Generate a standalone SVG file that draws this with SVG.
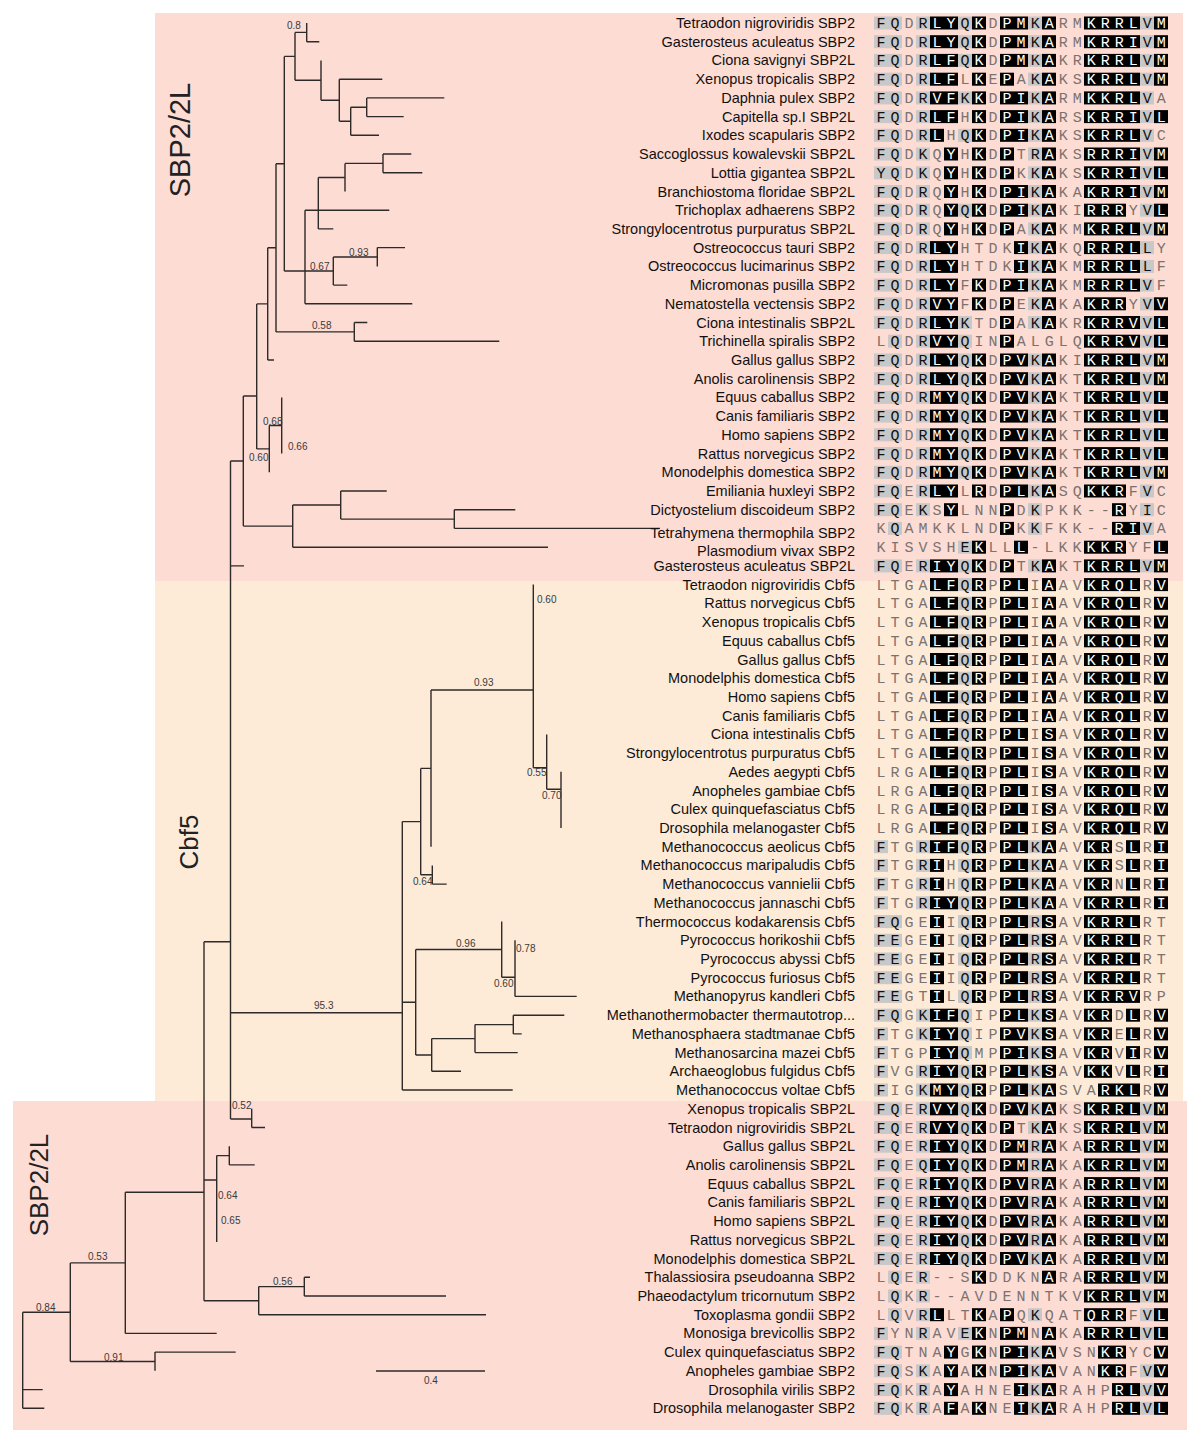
<svg xmlns="http://www.w3.org/2000/svg" width="1200" height="1446" viewBox="0 0 1200 1446">
<style>
.e{fill:none;stroke:#2e2a28;stroke-width:1.4}
.sup{font-family:"Liberation Sans",Arial,sans-serif;font-size:10px;fill:#3a3a3a}
.nm{font-family:"Liberation Sans",Arial,sans-serif;font-size:14.5px;fill:#111;text-anchor:end}
.aa{font-family:"Liberation Mono","Courier New",monospace;font-size:15px;letter-spacing:5px;fill:#7b726e}
.aa .k{fill:#111}.aa .w{fill:#fff}
rect.g{fill:#c8c8c8}rect.b{fill:#000}
.clade{font-family:"Liberation Sans",Arial,sans-serif;font-size:26px;fill:#222;text-anchor:middle}
</style>
<defs>
<g id="pA"><rect class="g" x="874" y="-6.5" width="28" height="13"/><rect class="g" x="916" y="-6.5" width="14" height="13"/><rect class="b" x="930" y="-6.5" width="28" height="13"/><rect class="g" x="958" y="-6.5" width="14" height="13"/><rect class="b" x="972" y="-6.5" width="14" height="13"/><rect class="b" x="1000" y="-6.5" width="28" height="13"/><rect class="g" x="1028" y="-6.5" width="14" height="13"/><rect class="b" x="1042" y="-6.5" width="14" height="13"/><rect class="b" x="1084" y="-6.5" width="56" height="13"/><rect class="g" x="1140" y="-6.5" width="14" height="13"/><rect class="b" x="1154" y="-6.5" width="14" height="13"/></g>
<g id="pB"><rect class="g" x="874" y="-6.5" width="28" height="13"/><rect class="g" x="916" y="-6.5" width="14" height="13"/><rect class="b" x="930" y="-6.5" width="28" height="13"/><rect class="g" x="958" y="-6.5" width="14" height="13"/><rect class="b" x="972" y="-6.5" width="14" height="13"/><rect class="b" x="1000" y="-6.5" width="14" height="13"/><rect class="g" x="1028" y="-6.5" width="14" height="13"/><rect class="b" x="1042" y="-6.5" width="14" height="13"/><rect class="b" x="1084" y="-6.5" width="56" height="13"/><rect class="g" x="1140" y="-6.5" width="14" height="13"/><rect class="b" x="1154" y="-6.5" width="14" height="13"/></g>
<g id="p4"><rect class="g" x="874" y="-6.5" width="28" height="13"/><rect class="g" x="916" y="-6.5" width="14" height="13"/><rect class="b" x="930" y="-6.5" width="28" height="13"/><rect class="b" x="972" y="-6.5" width="14" height="13"/><rect class="b" x="1000" y="-6.5" width="14" height="13"/><rect class="g" x="1028" y="-6.5" width="14" height="13"/><rect class="b" x="1042" y="-6.5" width="14" height="13"/><rect class="b" x="1084" y="-6.5" width="56" height="13"/><rect class="g" x="1140" y="-6.5" width="14" height="13"/><rect class="b" x="1154" y="-6.5" width="14" height="13"/></g>
<g id="p5"><rect class="g" x="874" y="-6.5" width="28" height="13"/><rect class="g" x="916" y="-6.5" width="14" height="13"/><rect class="b" x="930" y="-6.5" width="28" height="13"/><rect class="g" x="958" y="-6.5" width="14" height="13"/><rect class="b" x="972" y="-6.5" width="14" height="13"/><rect class="b" x="1000" y="-6.5" width="28" height="13"/><rect class="g" x="1028" y="-6.5" width="14" height="13"/><rect class="b" x="1042" y="-6.5" width="14" height="13"/><rect class="b" x="1084" y="-6.5" width="56" height="13"/><rect class="g" x="1140" y="-6.5" width="14" height="13"/></g>
<g id="p6"><rect class="g" x="874" y="-6.5" width="28" height="13"/><rect class="g" x="916" y="-6.5" width="14" height="13"/><rect class="b" x="930" y="-6.5" width="28" height="13"/><rect class="b" x="972" y="-6.5" width="14" height="13"/><rect class="b" x="1000" y="-6.5" width="28" height="13"/><rect class="g" x="1028" y="-6.5" width="14" height="13"/><rect class="b" x="1042" y="-6.5" width="14" height="13"/><rect class="b" x="1084" y="-6.5" width="56" height="13"/><rect class="g" x="1140" y="-6.5" width="14" height="13"/><rect class="b" x="1154" y="-6.5" width="14" height="13"/></g>
<g id="p7"><rect class="g" x="874" y="-6.5" width="28" height="13"/><rect class="g" x="916" y="-6.5" width="14" height="13"/><rect class="b" x="930" y="-6.5" width="14" height="13"/><rect class="g" x="958" y="-6.5" width="14" height="13"/><rect class="b" x="972" y="-6.5" width="14" height="13"/><rect class="b" x="1000" y="-6.5" width="28" height="13"/><rect class="g" x="1028" y="-6.5" width="14" height="13"/><rect class="b" x="1042" y="-6.5" width="14" height="13"/><rect class="b" x="1084" y="-6.5" width="56" height="13"/><rect class="g" x="1140" y="-6.5" width="14" height="13"/></g>
<g id="p8"><rect class="g" x="874" y="-6.5" width="28" height="13"/><rect class="g" x="916" y="-6.5" width="14" height="13"/><rect class="b" x="944" y="-6.5" width="14" height="13"/><rect class="b" x="972" y="-6.5" width="14" height="13"/><rect class="b" x="1000" y="-6.5" width="14" height="13"/><rect class="g" x="1028" y="-6.5" width="14" height="13"/><rect class="b" x="1042" y="-6.5" width="14" height="13"/><rect class="b" x="1084" y="-6.5" width="56" height="13"/><rect class="g" x="1140" y="-6.5" width="14" height="13"/><rect class="b" x="1154" y="-6.5" width="14" height="13"/></g>
<g id="p10"><rect class="g" x="874" y="-6.5" width="28" height="13"/><rect class="g" x="916" y="-6.5" width="14" height="13"/><rect class="b" x="944" y="-6.5" width="14" height="13"/><rect class="b" x="972" y="-6.5" width="14" height="13"/><rect class="b" x="1000" y="-6.5" width="28" height="13"/><rect class="g" x="1028" y="-6.5" width="14" height="13"/><rect class="b" x="1042" y="-6.5" width="14" height="13"/><rect class="b" x="1084" y="-6.5" width="56" height="13"/><rect class="g" x="1140" y="-6.5" width="14" height="13"/><rect class="b" x="1154" y="-6.5" width="14" height="13"/></g>
<g id="p11"><rect class="g" x="874" y="-6.5" width="28" height="13"/><rect class="g" x="916" y="-6.5" width="14" height="13"/><rect class="b" x="944" y="-6.5" width="14" height="13"/><rect class="g" x="958" y="-6.5" width="14" height="13"/><rect class="b" x="972" y="-6.5" width="14" height="13"/><rect class="b" x="1000" y="-6.5" width="28" height="13"/><rect class="g" x="1028" y="-6.5" width="14" height="13"/><rect class="b" x="1042" y="-6.5" width="14" height="13"/><rect class="b" x="1084" y="-6.5" width="42" height="13"/><rect class="g" x="1140" y="-6.5" width="14" height="13"/><rect class="b" x="1154" y="-6.5" width="14" height="13"/></g>
<g id="p13"><rect class="g" x="874" y="-6.5" width="28" height="13"/><rect class="g" x="916" y="-6.5" width="14" height="13"/><rect class="b" x="930" y="-6.5" width="28" height="13"/><rect class="b" x="1014" y="-6.5" width="14" height="13"/><rect class="g" x="1028" y="-6.5" width="14" height="13"/><rect class="b" x="1042" y="-6.5" width="14" height="13"/><rect class="b" x="1084" y="-6.5" width="56" height="13"/><rect class="g" x="1140" y="-6.5" width="14" height="13"/></g>
<g id="p15"><rect class="g" x="874" y="-6.5" width="28" height="13"/><rect class="g" x="916" y="-6.5" width="14" height="13"/><rect class="b" x="930" y="-6.5" width="28" height="13"/><rect class="b" x="972" y="-6.5" width="14" height="13"/><rect class="b" x="1000" y="-6.5" width="28" height="13"/><rect class="g" x="1028" y="-6.5" width="14" height="13"/><rect class="b" x="1042" y="-6.5" width="14" height="13"/><rect class="b" x="1084" y="-6.5" width="56" height="13"/><rect class="g" x="1140" y="-6.5" width="14" height="13"/></g>
<g id="p16"><rect class="g" x="874" y="-6.5" width="28" height="13"/><rect class="g" x="916" y="-6.5" width="14" height="13"/><rect class="b" x="930" y="-6.5" width="28" height="13"/><rect class="b" x="972" y="-6.5" width="14" height="13"/><rect class="b" x="1000" y="-6.5" width="14" height="13"/><rect class="g" x="1028" y="-6.5" width="14" height="13"/><rect class="b" x="1042" y="-6.5" width="14" height="13"/><rect class="b" x="1084" y="-6.5" width="42" height="13"/><rect class="g" x="1140" y="-6.5" width="14" height="13"/><rect class="b" x="1154" y="-6.5" width="14" height="13"/></g>
<g id="p17"><rect class="g" x="874" y="-6.5" width="28" height="13"/><rect class="g" x="916" y="-6.5" width="14" height="13"/><rect class="b" x="930" y="-6.5" width="28" height="13"/><rect class="g" x="958" y="-6.5" width="14" height="13"/><rect class="b" x="1000" y="-6.5" width="14" height="13"/><rect class="g" x="1028" y="-6.5" width="14" height="13"/><rect class="b" x="1042" y="-6.5" width="14" height="13"/><rect class="b" x="1084" y="-6.5" width="56" height="13"/><rect class="g" x="1140" y="-6.5" width="14" height="13"/><rect class="b" x="1154" y="-6.5" width="14" height="13"/></g>
<g id="p18"><rect class="g" x="888" y="-6.5" width="14" height="13"/><rect class="g" x="916" y="-6.5" width="14" height="13"/><rect class="b" x="930" y="-6.5" width="28" height="13"/><rect class="g" x="958" y="-6.5" width="14" height="13"/><rect class="b" x="1000" y="-6.5" width="14" height="13"/><rect class="b" x="1084" y="-6.5" width="56" height="13"/><rect class="g" x="1140" y="-6.5" width="14" height="13"/><rect class="b" x="1154" y="-6.5" width="14" height="13"/></g>
<g id="p26"><rect class="g" x="874" y="-6.5" width="28" height="13"/><rect class="g" x="916" y="-6.5" width="14" height="13"/><rect class="b" x="930" y="-6.5" width="28" height="13"/><rect class="b" x="972" y="-6.5" width="14" height="13"/><rect class="b" x="1000" y="-6.5" width="28" height="13"/><rect class="g" x="1028" y="-6.5" width="14" height="13"/><rect class="b" x="1042" y="-6.5" width="14" height="13"/><rect class="b" x="1084" y="-6.5" width="42" height="13"/><rect class="g" x="1140" y="-6.5" width="14" height="13"/></g>
<g id="p27"><rect class="g" x="874" y="-6.5" width="28" height="13"/><rect class="g" x="916" y="-6.5" width="14" height="13"/><rect class="b" x="944" y="-6.5" width="14" height="13"/><rect class="b" x="1000" y="-6.5" width="14" height="13"/><rect class="g" x="1028" y="-6.5" width="14" height="13"/><rect class="b" x="1112" y="-6.5" width="14" height="13"/><rect class="g" x="1140" y="-6.5" width="14" height="13"/></g>
<g id="p28"><rect class="g" x="888" y="-6.5" width="14" height="13"/><rect class="b" x="1000" y="-6.5" width="14" height="13"/><rect class="g" x="1028" y="-6.5" width="14" height="13"/><rect class="b" x="1112" y="-6.5" width="28" height="13"/><rect class="g" x="1140" y="-6.5" width="14" height="13"/></g>
<g id="p29"><rect class="g" x="958" y="-6.5" width="14" height="13"/><rect class="b" x="972" y="-6.5" width="14" height="13"/><rect class="b" x="1014" y="-6.5" width="14" height="13"/><rect class="b" x="1084" y="-6.5" width="42" height="13"/><rect class="b" x="1154" y="-6.5" width="14" height="13"/></g>
<g id="pC"><rect class="b" x="930" y="-6.5" width="28" height="13"/><rect class="g" x="958" y="-6.5" width="14" height="13"/><rect class="b" x="972" y="-6.5" width="14" height="13"/><rect class="b" x="1000" y="-6.5" width="28" height="13"/><rect class="b" x="1042" y="-6.5" width="14" height="13"/><rect class="b" x="1084" y="-6.5" width="56" height="13"/><rect class="b" x="1154" y="-6.5" width="14" height="13"/></g>
<g id="p45"><rect class="g" x="874" y="-6.5" width="14" height="13"/><rect class="g" x="916" y="-6.5" width="14" height="13"/><rect class="b" x="930" y="-6.5" width="28" height="13"/><rect class="g" x="958" y="-6.5" width="14" height="13"/><rect class="b" x="972" y="-6.5" width="14" height="13"/><rect class="b" x="1000" y="-6.5" width="28" height="13"/><rect class="g" x="1028" y="-6.5" width="14" height="13"/><rect class="b" x="1042" y="-6.5" width="14" height="13"/><rect class="b" x="1084" y="-6.5" width="28" height="13"/><rect class="b" x="1126" y="-6.5" width="14" height="13"/><rect class="b" x="1154" y="-6.5" width="14" height="13"/></g>
<g id="p46"><rect class="g" x="874" y="-6.5" width="14" height="13"/><rect class="g" x="916" y="-6.5" width="14" height="13"/><rect class="b" x="930" y="-6.5" width="14" height="13"/><rect class="g" x="958" y="-6.5" width="14" height="13"/><rect class="b" x="972" y="-6.5" width="14" height="13"/><rect class="b" x="1000" y="-6.5" width="28" height="13"/><rect class="g" x="1028" y="-6.5" width="14" height="13"/><rect class="b" x="1042" y="-6.5" width="14" height="13"/><rect class="b" x="1084" y="-6.5" width="28" height="13"/><rect class="b" x="1126" y="-6.5" width="14" height="13"/><rect class="b" x="1154" y="-6.5" width="14" height="13"/></g>
<g id="p48"><rect class="g" x="874" y="-6.5" width="14" height="13"/><rect class="g" x="916" y="-6.5" width="14" height="13"/><rect class="b" x="930" y="-6.5" width="28" height="13"/><rect class="g" x="958" y="-6.5" width="14" height="13"/><rect class="b" x="972" y="-6.5" width="14" height="13"/><rect class="b" x="1000" y="-6.5" width="28" height="13"/><rect class="g" x="1028" y="-6.5" width="14" height="13"/><rect class="b" x="1042" y="-6.5" width="14" height="13"/><rect class="b" x="1084" y="-6.5" width="56" height="13"/><rect class="b" x="1154" y="-6.5" width="14" height="13"/></g>
<g id="p49"><rect class="g" x="874" y="-6.5" width="28" height="13"/><rect class="b" x="930" y="-6.5" width="14" height="13"/><rect class="g" x="958" y="-6.5" width="14" height="13"/><rect class="b" x="972" y="-6.5" width="14" height="13"/><rect class="b" x="1000" y="-6.5" width="28" height="13"/><rect class="g" x="1028" y="-6.5" width="14" height="13"/><rect class="b" x="1042" y="-6.5" width="14" height="13"/><rect class="b" x="1084" y="-6.5" width="56" height="13"/></g>
<g id="p54"><rect class="g" x="874" y="-6.5" width="28" height="13"/><rect class="g" x="916" y="-6.5" width="14" height="13"/><rect class="b" x="930" y="-6.5" width="28" height="13"/><rect class="g" x="958" y="-6.5" width="14" height="13"/><rect class="b" x="1000" y="-6.5" width="28" height="13"/><rect class="g" x="1028" y="-6.5" width="14" height="13"/><rect class="b" x="1042" y="-6.5" width="14" height="13"/><rect class="b" x="1084" y="-6.5" width="28" height="13"/><rect class="b" x="1126" y="-6.5" width="14" height="13"/><rect class="b" x="1154" y="-6.5" width="14" height="13"/></g>
<g id="p55"><rect class="g" x="874" y="-6.5" width="14" height="13"/><rect class="g" x="916" y="-6.5" width="14" height="13"/><rect class="b" x="930" y="-6.5" width="28" height="13"/><rect class="g" x="958" y="-6.5" width="14" height="13"/><rect class="b" x="1000" y="-6.5" width="28" height="13"/><rect class="g" x="1028" y="-6.5" width="14" height="13"/><rect class="b" x="1042" y="-6.5" width="14" height="13"/><rect class="b" x="1084" y="-6.5" width="28" height="13"/><rect class="b" x="1126" y="-6.5" width="14" height="13"/><rect class="b" x="1154" y="-6.5" width="14" height="13"/></g>
<g id="p56"><rect class="g" x="874" y="-6.5" width="14" height="13"/><rect class="b" x="930" y="-6.5" width="28" height="13"/><rect class="g" x="958" y="-6.5" width="14" height="13"/><rect class="b" x="1000" y="-6.5" width="28" height="13"/><rect class="g" x="1028" y="-6.5" width="14" height="13"/><rect class="b" x="1042" y="-6.5" width="14" height="13"/><rect class="b" x="1084" y="-6.5" width="28" height="13"/><rect class="b" x="1126" y="-6.5" width="14" height="13"/><rect class="b" x="1154" y="-6.5" width="14" height="13"/></g>
<g id="p58"><rect class="g" x="874" y="-6.5" width="14" height="13"/><rect class="g" x="916" y="-6.5" width="14" height="13"/><rect class="b" x="930" y="-6.5" width="28" height="13"/><rect class="g" x="958" y="-6.5" width="14" height="13"/><rect class="b" x="972" y="-6.5" width="14" height="13"/><rect class="b" x="1000" y="-6.5" width="28" height="13"/><rect class="g" x="1028" y="-6.5" width="14" height="13"/><rect class="b" x="1042" y="-6.5" width="14" height="13"/><rect class="b" x="1098" y="-6.5" width="42" height="13"/><rect class="b" x="1154" y="-6.5" width="14" height="13"/></g>
<g id="p68"><rect class="g" x="888" y="-6.5" width="14" height="13"/><rect class="g" x="916" y="-6.5" width="14" height="13"/><rect class="b" x="972" y="-6.5" width="14" height="13"/><rect class="b" x="1042" y="-6.5" width="14" height="13"/><rect class="b" x="1084" y="-6.5" width="56" height="13"/><rect class="g" x="1140" y="-6.5" width="14" height="13"/><rect class="b" x="1154" y="-6.5" width="14" height="13"/></g>
<g id="p69"><rect class="g" x="888" y="-6.5" width="14" height="13"/><rect class="g" x="916" y="-6.5" width="14" height="13"/><rect class="b" x="1084" y="-6.5" width="56" height="13"/><rect class="g" x="1140" y="-6.5" width="14" height="13"/><rect class="b" x="1154" y="-6.5" width="14" height="13"/></g>
<g id="p70"><rect class="g" x="888" y="-6.5" width="14" height="13"/><rect class="g" x="916" y="-6.5" width="14" height="13"/><rect class="b" x="930" y="-6.5" width="14" height="13"/><rect class="b" x="972" y="-6.5" width="14" height="13"/><rect class="b" x="1000" y="-6.5" width="14" height="13"/><rect class="g" x="1028" y="-6.5" width="14" height="13"/><rect class="b" x="1084" y="-6.5" width="42" height="13"/><rect class="g" x="1140" y="-6.5" width="14" height="13"/><rect class="b" x="1154" y="-6.5" width="14" height="13"/></g>
<g id="p71"><rect class="g" x="874" y="-6.5" width="14" height="13"/><rect class="g" x="916" y="-6.5" width="14" height="13"/><rect class="g" x="958" y="-6.5" width="14" height="13"/><rect class="b" x="972" y="-6.5" width="14" height="13"/><rect class="b" x="1000" y="-6.5" width="28" height="13"/><rect class="b" x="1042" y="-6.5" width="14" height="13"/><rect class="b" x="1084" y="-6.5" width="56" height="13"/><rect class="g" x="1140" y="-6.5" width="14" height="13"/><rect class="b" x="1154" y="-6.5" width="14" height="13"/></g>
<g id="p72"><rect class="g" x="874" y="-6.5" width="28" height="13"/><rect class="b" x="944" y="-6.5" width="14" height="13"/><rect class="b" x="972" y="-6.5" width="14" height="13"/><rect class="b" x="1000" y="-6.5" width="28" height="13"/><rect class="g" x="1028" y="-6.5" width="14" height="13"/><rect class="b" x="1042" y="-6.5" width="14" height="13"/><rect class="b" x="1098" y="-6.5" width="28" height="13"/><rect class="b" x="1154" y="-6.5" width="14" height="13"/></g>
<g id="p73"><rect class="g" x="874" y="-6.5" width="28" height="13"/><rect class="g" x="916" y="-6.5" width="14" height="13"/><rect class="b" x="944" y="-6.5" width="14" height="13"/><rect class="b" x="972" y="-6.5" width="14" height="13"/><rect class="b" x="1000" y="-6.5" width="28" height="13"/><rect class="g" x="1028" y="-6.5" width="14" height="13"/><rect class="b" x="1042" y="-6.5" width="14" height="13"/><rect class="b" x="1098" y="-6.5" width="28" height="13"/><rect class="g" x="1140" y="-6.5" width="14" height="13"/><rect class="b" x="1154" y="-6.5" width="14" height="13"/></g>
<g id="p74"><rect class="g" x="874" y="-6.5" width="28" height="13"/><rect class="g" x="916" y="-6.5" width="14" height="13"/><rect class="b" x="944" y="-6.5" width="14" height="13"/><rect class="b" x="1014" y="-6.5" width="14" height="13"/><rect class="g" x="1028" y="-6.5" width="14" height="13"/><rect class="b" x="1042" y="-6.5" width="14" height="13"/><rect class="b" x="1112" y="-6.5" width="28" height="13"/><rect class="g" x="1140" y="-6.5" width="14" height="13"/><rect class="b" x="1154" y="-6.5" width="14" height="13"/></g>
<g id="p75"><rect class="g" x="874" y="-6.5" width="28" height="13"/><rect class="g" x="916" y="-6.5" width="14" height="13"/><rect class="b" x="944" y="-6.5" width="14" height="13"/><rect class="b" x="972" y="-6.5" width="14" height="13"/><rect class="b" x="1014" y="-6.5" width="14" height="13"/><rect class="g" x="1028" y="-6.5" width="14" height="13"/><rect class="b" x="1042" y="-6.5" width="14" height="13"/><rect class="b" x="1112" y="-6.5" width="28" height="13"/><rect class="g" x="1140" y="-6.5" width="14" height="13"/><rect class="b" x="1154" y="-6.5" width="14" height="13"/></g>
</defs>
<rect width="1200" height="1446" fill="#ffffff"/>
<g id="clade-boxes">
<rect id="box-sbp2-top" x="155" y="13" width="1028" height="568" fill="#fddcd4"/>
<rect id="box-cbf5" x="155" y="581" width="1028" height="520" fill="#fdebd8"/>
<rect id="box-sbp2-bottom" x="13" y="1101" width="1174" height="329" fill="#fddcd4"/>
</g>
<g id="clade-labels">
<text class="clade" style="font-size:29px" transform="translate(190,140) rotate(-90)">SBP2/2L</text>
<text class="clade" transform="translate(198,842) rotate(-90)">Cbf5</text>
<text class="clade" transform="translate(48,1185) rotate(-90)">SBP2/2L</text>
</g>
<g id="connectors" class="e">
<path d="M306.7,23V41.7M306.7,41.7H319.3M295,32.4H306.7"/>
<path d="M366.7,97.9V116.6M366.7,97.9H444.3M366.7,116.6H403.7"/>
<path d="M350.7,107.3V135.3M350.7,107.3H366.7M350.7,135.3H379"/>
<path d="M339.3,79.2V121.3M339.3,79.2H382.3M339.3,121.3H350.7"/>
<path d="M321,60.4V100.2M321,100.2H339.3"/>
<path d="M295,32.4V80.3M295,80.3H321"/>
<path d="M284.3,56.4V271M284.3,56.4H295M284.3,271H333.3"/>
<path d="M383,154V172.8M383,154H411.3M383,172.8H422.3"/>
<path d="M345,163.4V191.5M345,163.4H383"/>
<path d="M318.3,177.5V228.9M318.3,177.5H345M318.3,210.2H389.3M318.3,228.9H333.3"/>
<path d="M377.3,247.6V266.4M377.3,247.6H405"/>
<path d="M333.3,257V285.1M333.3,257H377.3M333.3,285.1H347.3"/>
<path d="M305,210.2V303.8M305,210.2H318.3M305,303.8H412.3"/>
<path d="M276,163.7V331.9M276,163.7H284.3M276,331.9H354.3"/>
<path d="M354.3,322.5V341.2M354.3,322.5H367.3M354.3,341.2H499.3"/>
<path d="M267.7,247.8V360M267.7,247.8H276M267.7,360H274"/>
<path d="M281.7,397.4V453.6"/>
<path d="M269.3,425.5V472.3M269.3,425.5H281.7"/>
<path d="M256.7,303.9V448.9M256.7,303.9H267.7M256.7,448.9H269.3"/>
<path d="M454.3,509.7V528.4M454.3,509.7H515.3M454.3,528.4H660"/>
<path d="M340.7,491V519.1M340.7,491H386.7M340.7,519.1H454.3"/>
<path d="M292.7,505V547.2M292.7,505H340.7M292.7,547.2H548"/>
<path d="M243.3,396V526.1M243.3,396H256.7M243.3,526.1H292.7"/>
<path d="M230.5,461V1119M230.5,461H243.3M230.5,565.9H244M230.5,1012.7H402.3M230.5,1119H251.7"/>
<path d="M561,771.8V828"/>
<path d="M546.7,734.4V789.3M546.7,789.3H561"/>
<path d="M533.3,584.6V767.7M533.3,767.7H546.7"/>
<path d="M431,690V846.7M431,690H533.3"/>
<path d="M432.3,865.4V884.1M432.3,884.1H446.7"/>
<path d="M420.7,768.4V874.8M420.7,768.4H431M420.7,874.8H432.3"/>
<path d="M515,940.3V996.4M515,996.4H576.7"/>
<path d="M501.7,921.6V977.3M501.7,977.3H515"/>
<path d="M513.3,1015.2V1033.9M513.3,1015.2H564.3M513.3,1033.9H521.7"/>
<path d="M475,1024.6V1052.6M475,1024.6H513.3M475,1052.6H517.7"/>
<path d="M431.7,1038.6V1071.3M431.7,1038.6H475M431.7,1071.3H461"/>
<path d="M415.7,949.5V1055M415.7,949.5H501.7M415.7,1055H431.7"/>
<path d="M402.3,821.6V1090M402.3,821.6H420.7M402.3,1002.3H415.7M402.3,1090H512.7"/>
<path d="M251.7,1108.8V1127.5M251.7,1127.5H265"/>
<path d="M229.3,1146.2V1164.9M229.3,1164.9H254.7"/>
<path d="M216.7,1155.6V1242M216.7,1155.6H229.3"/>
<path d="M304.3,1277.2V1296M304.3,1277.2H310M304.3,1296H446"/>
<path d="M258.7,1286.6V1314.7M258.7,1286.6H304.3M258.7,1314.7H486"/>
<path d="M204,941.7V1300.7M204,941.7H230.5M204,1180H216.7M204,1300.7H258.7"/>
<path d="M125.3,1192.3V1333.4M125.3,1192.3H204M125.3,1333.4H216.7"/>
<path d="M155,1352.1V1370.8M155,1352.1H235.7"/>
<path d="M70.3,1262.9V1361.5M70.3,1262.9H125.3M70.3,1361.5H155"/>
<path d="M22.7,1312.2V1408.3M22.7,1312.2H70.3M22.7,1389.6H42.7M22.7,1408.3H44.3"/>
<path id="scale-bar" d="M376,1371H485"/>
</g>
<g id="support-values" class="sup">
<text x="287" y="29">0.8</text>
<text x="349" y="256">0.93</text>
<text x="310" y="270">0.67</text>
<text x="312" y="329">0.58</text>
<text x="263" y="425">0.68</text>
<text x="288" y="450">0.66</text>
<text x="249" y="461">0.60</text>
<text x="537" y="603">0.60</text>
<text x="474" y="686">0.93</text>
<text x="527" y="776">0.55</text>
<text x="542" y="799">0.70</text>
<text x="413" y="885">0.64</text>
<text x="456" y="947">0.96</text>
<text x="516" y="952">0.78</text>
<text x="494" y="987">0.60</text>
<text x="314" y="1009">95.3</text>
<text x="232" y="1109">0.52</text>
<text x="218" y="1199">0.64</text>
<text x="221" y="1224">0.65</text>
<text x="273" y="1285">0.56</text>
<text x="88" y="1260">0.53</text>
<text x="36" y="1311">0.84</text>
<text x="104" y="1361">0.91</text>
<text x="424" y="1384">0.4</text>
</g>
<g id="leaves">
<g id="leaf1" transform="translate(0,23)"><text class="nm" x="855" y="5">Tetraodon nigroviridis SBP2</text><use href="#pA"/><text class="aa" x="876.5" y="5"><tspan class="k">FQ</tspan>D<tspan class="k">R</tspan><tspan class="w">LY</tspan><tspan class="k">Q</tspan><tspan class="w">K</tspan>D<tspan class="w">PM</tspan><tspan class="k">K</tspan><tspan class="w">A</tspan>RM<tspan class="w">KRRL</tspan><tspan class="k">V</tspan><tspan class="w">M</tspan></text></g>
<g id="leaf2" transform="translate(0,41.7)"><text class="nm" x="855" y="5">Gasterosteus aculeatus SBP2</text><use href="#pA"/><text class="aa" x="876.5" y="5"><tspan class="k">FQ</tspan>D<tspan class="k">R</tspan><tspan class="w">LY</tspan><tspan class="k">Q</tspan><tspan class="w">K</tspan>D<tspan class="w">PM</tspan><tspan class="k">K</tspan><tspan class="w">A</tspan>RM<tspan class="w">KRRI</tspan><tspan class="k">V</tspan><tspan class="w">M</tspan></text></g>
<g id="leaf3" transform="translate(0,60.4)"><text class="nm" x="855" y="5">Ciona savignyi SBP2L</text><use href="#pA"/><text class="aa" x="876.5" y="5"><tspan class="k">FQ</tspan>D<tspan class="k">R</tspan><tspan class="w">LF</tspan><tspan class="k">Q</tspan><tspan class="w">K</tspan>D<tspan class="w">PM</tspan><tspan class="k">K</tspan><tspan class="w">A</tspan>KR<tspan class="w">KRRL</tspan><tspan class="k">V</tspan><tspan class="w">M</tspan></text></g>
<g id="leaf4" transform="translate(0,79.2)"><text class="nm" x="855" y="5">Xenopus tropicalis SBP2</text><use href="#p4"/><text class="aa" x="876.5" y="5"><tspan class="k">FQ</tspan>D<tspan class="k">R</tspan><tspan class="w">LF</tspan>L<tspan class="w">K</tspan>E<tspan class="w">P</tspan>A<tspan class="k">K</tspan><tspan class="w">A</tspan>KS<tspan class="w">KRRL</tspan><tspan class="k">V</tspan><tspan class="w">M</tspan></text></g>
<g id="leaf5" transform="translate(0,97.9)"><text class="nm" x="855" y="5">Daphnia pulex SBP2</text><use href="#p5"/><text class="aa" x="876.5" y="5"><tspan class="k">FQ</tspan>D<tspan class="k">R</tspan><tspan class="w">VF</tspan><tspan class="k">K</tspan><tspan class="w">K</tspan>D<tspan class="w">PI</tspan><tspan class="k">K</tspan><tspan class="w">A</tspan>RM<tspan class="w">KKRL</tspan><tspan class="k">V</tspan>A</text></g>
<g id="leaf6" transform="translate(0,116.6)"><text class="nm" x="855" y="5">Capitella sp.I SBP2L</text><use href="#p6"/><text class="aa" x="876.5" y="5"><tspan class="k">FQ</tspan>D<tspan class="k">R</tspan><tspan class="w">LF</tspan>H<tspan class="w">K</tspan>D<tspan class="w">PI</tspan><tspan class="k">K</tspan><tspan class="w">A</tspan>RS<tspan class="w">KRRI</tspan><tspan class="k">V</tspan><tspan class="w">L</tspan></text></g>
<g id="leaf7" transform="translate(0,135.3)"><text class="nm" x="855" y="5">Ixodes scapularis SBP2</text><use href="#p7"/><text class="aa" x="876.5" y="5"><tspan class="k">FQ</tspan>D<tspan class="k">R</tspan><tspan class="w">L</tspan>H<tspan class="k">Q</tspan><tspan class="w">K</tspan>D<tspan class="w">PI</tspan><tspan class="k">K</tspan><tspan class="w">A</tspan>KS<tspan class="w">KRRL</tspan><tspan class="k">V</tspan>C</text></g>
<g id="leaf8" transform="translate(0,154)"><text class="nm" x="855" y="5">Saccoglossus kowalevskii SBP2L</text><use href="#p8"/><text class="aa" x="876.5" y="5"><tspan class="k">FQ</tspan>D<tspan class="k">K</tspan>Q<tspan class="w">Y</tspan>H<tspan class="w">K</tspan>D<tspan class="w">P</tspan>T<tspan class="k">R</tspan><tspan class="w">A</tspan>KS<tspan class="w">RRRI</tspan><tspan class="k">V</tspan><tspan class="w">M</tspan></text></g>
<g id="leaf9" transform="translate(0,172.8)"><text class="nm" x="855" y="5">Lottia gigantea SBP2L</text><use href="#p8"/><text class="aa" x="876.5" y="5"><tspan class="k">YQ</tspan>D<tspan class="k">K</tspan>Q<tspan class="w">Y</tspan>H<tspan class="w">K</tspan>D<tspan class="w">P</tspan>K<tspan class="k">K</tspan><tspan class="w">A</tspan>KS<tspan class="w">KRRI</tspan><tspan class="k">V</tspan><tspan class="w">L</tspan></text></g>
<g id="leaf10" transform="translate(0,191.5)"><text class="nm" x="855" y="5">Branchiostoma floridae SBP2L</text><use href="#p10"/><text class="aa" x="876.5" y="5"><tspan class="k">FQ</tspan>D<tspan class="k">R</tspan>Q<tspan class="w">Y</tspan>H<tspan class="w">K</tspan>D<tspan class="w">PI</tspan><tspan class="k">K</tspan><tspan class="w">A</tspan>KA<tspan class="w">KRRI</tspan><tspan class="k">V</tspan><tspan class="w">M</tspan></text></g>
<g id="leaf11" transform="translate(0,210.2)"><text class="nm" x="855" y="5">Trichoplax adhaerens SBP2</text><use href="#p11"/><text class="aa" x="876.5" y="5"><tspan class="k">FQ</tspan>D<tspan class="k">R</tspan>Q<tspan class="w">Y</tspan><tspan class="k">Q</tspan><tspan class="w">K</tspan>D<tspan class="w">PI</tspan><tspan class="k">K</tspan><tspan class="w">A</tspan>KI<tspan class="w">RRR</tspan>Y<tspan class="k">V</tspan><tspan class="w">L</tspan></text></g>
<g id="leaf12" transform="translate(0,228.9)"><text class="nm" x="855" y="5">Strongylocentrotus purpuratus SBP2L</text><use href="#p8"/><text class="aa" x="876.5" y="5"><tspan class="k">FQ</tspan>D<tspan class="k">R</tspan>Q<tspan class="w">Y</tspan>H<tspan class="w">K</tspan>D<tspan class="w">P</tspan>A<tspan class="k">K</tspan><tspan class="w">A</tspan>KM<tspan class="w">KRRL</tspan><tspan class="k">V</tspan><tspan class="w">M</tspan></text></g>
<g id="leaf13" transform="translate(0,247.6)"><text class="nm" x="855" y="5">Ostreococcus tauri SBP2</text><use href="#p13"/><text class="aa" x="876.5" y="5"><tspan class="k">FQ</tspan>D<tspan class="k">R</tspan><tspan class="w">LY</tspan>HTDK<tspan class="w">I</tspan><tspan class="k">K</tspan><tspan class="w">A</tspan>KQ<tspan class="w">RRRL</tspan><tspan class="k">L</tspan>Y</text></g>
<g id="leaf14" transform="translate(0,266.4)"><text class="nm" x="855" y="5">Ostreococcus lucimarinus SBP2</text><use href="#p13"/><text class="aa" x="876.5" y="5"><tspan class="k">FQ</tspan>D<tspan class="k">R</tspan><tspan class="w">LY</tspan>HTDK<tspan class="w">I</tspan><tspan class="k">K</tspan><tspan class="w">A</tspan>KM<tspan class="w">RRRL</tspan><tspan class="k">L</tspan>F</text></g>
<g id="leaf15" transform="translate(0,285.1)"><text class="nm" x="855" y="5">Micromonas pusilla SBP2</text><use href="#p15"/><text class="aa" x="876.5" y="5"><tspan class="k">FQ</tspan>D<tspan class="k">R</tspan><tspan class="w">LY</tspan>F<tspan class="w">K</tspan>D<tspan class="w">PI</tspan><tspan class="k">K</tspan><tspan class="w">A</tspan>KM<tspan class="w">RRRL</tspan><tspan class="k">V</tspan>F</text></g>
<g id="leaf16" transform="translate(0,303.8)"><text class="nm" x="855" y="5">Nematostella vectensis SBP2</text><use href="#p16"/><text class="aa" x="876.5" y="5"><tspan class="k">FQ</tspan>D<tspan class="k">R</tspan><tspan class="w">VY</tspan>F<tspan class="w">K</tspan>D<tspan class="w">P</tspan>E<tspan class="k">K</tspan><tspan class="w">A</tspan>KA<tspan class="w">KRR</tspan>Y<tspan class="k">V</tspan><tspan class="w">V</tspan></text></g>
<g id="leaf17" transform="translate(0,322.5)"><text class="nm" x="855" y="5">Ciona intestinalis SBP2L</text><use href="#p17"/><text class="aa" x="876.5" y="5"><tspan class="k">FQ</tspan>D<tspan class="k">R</tspan><tspan class="w">LY</tspan><tspan class="k">K</tspan>TD<tspan class="w">P</tspan>A<tspan class="k">K</tspan><tspan class="w">A</tspan>KR<tspan class="w">KRRV</tspan><tspan class="k">V</tspan><tspan class="w">L</tspan></text></g>
<g id="leaf18" transform="translate(0,341.2)"><text class="nm" x="855" y="5">Trichinella spiralis SBP2</text><use href="#p18"/><text class="aa" x="876.5" y="5">L<tspan class="k">Q</tspan>D<tspan class="k">R</tspan><tspan class="w">VY</tspan><tspan class="k">Q</tspan>IN<tspan class="w">P</tspan>ALGLQ<tspan class="w">KRRV</tspan><tspan class="k">V</tspan><tspan class="w">L</tspan></text></g>
<g id="leaf19" transform="translate(0,360)"><text class="nm" x="855" y="5">Gallus gallus SBP2</text><use href="#pA"/><text class="aa" x="876.5" y="5"><tspan class="k">FQ</tspan>D<tspan class="k">R</tspan><tspan class="w">LY</tspan><tspan class="k">Q</tspan><tspan class="w">K</tspan>D<tspan class="w">PV</tspan><tspan class="k">K</tspan><tspan class="w">A</tspan>KI<tspan class="w">KRRL</tspan><tspan class="k">V</tspan><tspan class="w">M</tspan></text></g>
<g id="leaf20" transform="translate(0,378.7)"><text class="nm" x="855" y="5">Anolis carolinensis SBP2</text><use href="#pA"/><text class="aa" x="876.5" y="5"><tspan class="k">FQ</tspan>D<tspan class="k">R</tspan><tspan class="w">LY</tspan><tspan class="k">Q</tspan><tspan class="w">K</tspan>D<tspan class="w">PV</tspan><tspan class="k">K</tspan><tspan class="w">A</tspan>KT<tspan class="w">KRRL</tspan><tspan class="k">V</tspan><tspan class="w">M</tspan></text></g>
<g id="leaf21" transform="translate(0,397.4)"><text class="nm" x="855" y="5">Equus caballus SBP2</text><use href="#pA"/><text class="aa" x="876.5" y="5"><tspan class="k">FQ</tspan>D<tspan class="k">R</tspan><tspan class="w">MY</tspan><tspan class="k">Q</tspan><tspan class="w">K</tspan>D<tspan class="w">PV</tspan><tspan class="k">K</tspan><tspan class="w">A</tspan>KT<tspan class="w">KRRL</tspan><tspan class="k">V</tspan><tspan class="w">L</tspan></text></g>
<g id="leaf22" transform="translate(0,416.1)"><text class="nm" x="855" y="5">Canis familiaris SBP2</text><use href="#pA"/><text class="aa" x="876.5" y="5"><tspan class="k">FQ</tspan>D<tspan class="k">R</tspan><tspan class="w">MY</tspan><tspan class="k">Q</tspan><tspan class="w">K</tspan>D<tspan class="w">PV</tspan><tspan class="k">K</tspan><tspan class="w">A</tspan>KT<tspan class="w">KRRL</tspan><tspan class="k">V</tspan><tspan class="w">L</tspan></text></g>
<g id="leaf23" transform="translate(0,434.8)"><text class="nm" x="855" y="5">Homo sapiens SBP2</text><use href="#pA"/><text class="aa" x="876.5" y="5"><tspan class="k">FQ</tspan>D<tspan class="k">R</tspan><tspan class="w">MY</tspan><tspan class="k">Q</tspan><tspan class="w">K</tspan>D<tspan class="w">PV</tspan><tspan class="k">K</tspan><tspan class="w">A</tspan>KT<tspan class="w">KRRL</tspan><tspan class="k">V</tspan><tspan class="w">L</tspan></text></g>
<g id="leaf24" transform="translate(0,453.6)"><text class="nm" x="855" y="5">Rattus norvegicus SBP2</text><use href="#pA"/><text class="aa" x="876.5" y="5"><tspan class="k">FQ</tspan>D<tspan class="k">R</tspan><tspan class="w">MY</tspan><tspan class="k">Q</tspan><tspan class="w">K</tspan>D<tspan class="w">PV</tspan><tspan class="k">K</tspan><tspan class="w">A</tspan>KT<tspan class="w">KRRL</tspan><tspan class="k">V</tspan><tspan class="w">L</tspan></text></g>
<g id="leaf25" transform="translate(0,472.3)"><text class="nm" x="855" y="5">Monodelphis domestica SBP2</text><use href="#pA"/><text class="aa" x="876.5" y="5"><tspan class="k">FQ</tspan>D<tspan class="k">R</tspan><tspan class="w">MY</tspan><tspan class="k">Q</tspan><tspan class="w">K</tspan>D<tspan class="w">PV</tspan><tspan class="k">K</tspan><tspan class="w">A</tspan>KT<tspan class="w">KRRL</tspan><tspan class="k">V</tspan><tspan class="w">M</tspan></text></g>
<g id="leaf26" transform="translate(0,491)"><text class="nm" x="855" y="5">Emiliania huxleyi SBP2</text><use href="#p26"/><text class="aa" x="876.5" y="5"><tspan class="k">FQ</tspan>E<tspan class="k">R</tspan><tspan class="w">LY</tspan>L<tspan class="w">R</tspan>D<tspan class="w">PL</tspan><tspan class="k">K</tspan><tspan class="w">A</tspan>SQ<tspan class="w">KKR</tspan>F<tspan class="k">V</tspan>C</text></g>
<g id="leaf27" transform="translate(0,509.7)"><text class="nm" x="855" y="5">Dictyostelium discoideum SBP2</text><use href="#p27"/><text class="aa" x="876.5" y="5"><tspan class="k">FQ</tspan>E<tspan class="k">K</tspan>S<tspan class="w">Y</tspan>LNN<tspan class="w">P</tspan>D<tspan class="k">K</tspan>PKK--<tspan class="w">R</tspan>Y<tspan class="k">I</tspan>C</text></g>
<g id="leaf28" transform="translate(0,528.4)"><text class="nm" x="855" y="10">Tetrahymena thermophila SBP2</text><use href="#p28"/><text class="aa" x="876.5" y="5">K<tspan class="k">Q</tspan>AMKKLND<tspan class="w">P</tspan>K<tspan class="k">K</tspan>FKK--<tspan class="w">RI</tspan><tspan class="k">V</tspan>A</text></g>
<g id="leaf29" transform="translate(0,547.2)"><text class="nm" x="855" y="9">Plasmodium vivax SBP2</text><use href="#p29"/><text class="aa" x="876.5" y="5">KISVSH<tspan class="k">E</tspan><tspan class="w">K</tspan>LL<tspan class="w">L</tspan>-LKK<tspan class="w">KKR</tspan>YF<tspan class="w">L</tspan></text></g>
<g id="leaf30" transform="translate(0,565.9)"><text class="nm" x="855" y="5">Gasterosteus aculeatus SBP2L</text><use href="#pB"/><text class="aa" x="876.5" y="5"><tspan class="k">FQ</tspan>E<tspan class="k">R</tspan><tspan class="w">IY</tspan><tspan class="k">Q</tspan><tspan class="w">K</tspan>D<tspan class="w">P</tspan>T<tspan class="k">K</tspan><tspan class="w">A</tspan>KT<tspan class="w">KRRL</tspan><tspan class="k">V</tspan><tspan class="w">M</tspan></text></g>
<g id="leaf31" transform="translate(0,584.6)"><text class="nm" x="855" y="5">Tetraodon nigroviridis Cbf5</text><use href="#pC"/><text class="aa" x="876.5" y="5">LTGA<tspan class="w">LF</tspan><tspan class="k">Q</tspan><tspan class="w">R</tspan>P<tspan class="w">PL</tspan>I<tspan class="w">A</tspan>AV<tspan class="w">KRQL</tspan>R<tspan class="w">V</tspan></text></g>
<g id="leaf32" transform="translate(0,603.3)"><text class="nm" x="855" y="5">Rattus norvegicus Cbf5</text><use href="#pC"/><text class="aa" x="876.5" y="5">LTGA<tspan class="w">LF</tspan><tspan class="k">Q</tspan><tspan class="w">R</tspan>P<tspan class="w">PL</tspan>I<tspan class="w">A</tspan>AV<tspan class="w">KRQL</tspan>R<tspan class="w">V</tspan></text></g>
<g id="leaf33" transform="translate(0,622)"><text class="nm" x="855" y="5">Xenopus tropicalis Cbf5</text><use href="#pC"/><text class="aa" x="876.5" y="5">LTGA<tspan class="w">LF</tspan><tspan class="k">Q</tspan><tspan class="w">R</tspan>P<tspan class="w">PL</tspan>I<tspan class="w">A</tspan>AV<tspan class="w">KRQL</tspan>R<tspan class="w">V</tspan></text></g>
<g id="leaf34" transform="translate(0,640.8)"><text class="nm" x="855" y="5">Equus caballus Cbf5</text><use href="#pC"/><text class="aa" x="876.5" y="5">LTGA<tspan class="w">LF</tspan><tspan class="k">Q</tspan><tspan class="w">R</tspan>P<tspan class="w">PL</tspan>I<tspan class="w">A</tspan>AV<tspan class="w">KRQL</tspan>R<tspan class="w">V</tspan></text></g>
<g id="leaf35" transform="translate(0,659.5)"><text class="nm" x="855" y="5">Gallus gallus Cbf5</text><use href="#pC"/><text class="aa" x="876.5" y="5">LTGA<tspan class="w">LF</tspan><tspan class="k">Q</tspan><tspan class="w">R</tspan>P<tspan class="w">PL</tspan>I<tspan class="w">A</tspan>AV<tspan class="w">KRQL</tspan>R<tspan class="w">V</tspan></text></g>
<g id="leaf36" transform="translate(0,678.2)"><text class="nm" x="855" y="5">Monodelphis domestica Cbf5</text><use href="#pC"/><text class="aa" x="876.5" y="5">LTGA<tspan class="w">LF</tspan><tspan class="k">Q</tspan><tspan class="w">R</tspan>P<tspan class="w">PL</tspan>I<tspan class="w">A</tspan>AV<tspan class="w">KRQL</tspan>R<tspan class="w">V</tspan></text></g>
<g id="leaf37" transform="translate(0,696.9)"><text class="nm" x="855" y="5">Homo sapiens Cbf5</text><use href="#pC"/><text class="aa" x="876.5" y="5">LTGA<tspan class="w">LF</tspan><tspan class="k">Q</tspan><tspan class="w">R</tspan>P<tspan class="w">PL</tspan>I<tspan class="w">A</tspan>AV<tspan class="w">KRQL</tspan>R<tspan class="w">V</tspan></text></g>
<g id="leaf38" transform="translate(0,715.6)"><text class="nm" x="855" y="5">Canis familiaris Cbf5</text><use href="#pC"/><text class="aa" x="876.5" y="5">LTGA<tspan class="w">LF</tspan><tspan class="k">Q</tspan><tspan class="w">R</tspan>P<tspan class="w">PL</tspan>I<tspan class="w">A</tspan>AV<tspan class="w">KRQL</tspan>R<tspan class="w">V</tspan></text></g>
<g id="leaf39" transform="translate(0,734.4)"><text class="nm" x="855" y="5">Ciona intestinalis Cbf5</text><use href="#pC"/><text class="aa" x="876.5" y="5">LTGA<tspan class="w">LF</tspan><tspan class="k">Q</tspan><tspan class="w">R</tspan>P<tspan class="w">PL</tspan>I<tspan class="w">S</tspan>AV<tspan class="w">KRQL</tspan>R<tspan class="w">V</tspan></text></g>
<g id="leaf40" transform="translate(0,753.1)"><text class="nm" x="855" y="5">Strongylocentrotus purpuratus Cbf5</text><use href="#pC"/><text class="aa" x="876.5" y="5">LTGA<tspan class="w">LF</tspan><tspan class="k">Q</tspan><tspan class="w">R</tspan>P<tspan class="w">PL</tspan>I<tspan class="w">S</tspan>AV<tspan class="w">KRQL</tspan>R<tspan class="w">V</tspan></text></g>
<g id="leaf41" transform="translate(0,771.8)"><text class="nm" x="855" y="5">Aedes aegypti Cbf5</text><use href="#pC"/><text class="aa" x="876.5" y="5">LRGA<tspan class="w">LF</tspan><tspan class="k">Q</tspan><tspan class="w">R</tspan>P<tspan class="w">PL</tspan>I<tspan class="w">S</tspan>AV<tspan class="w">KRQL</tspan>R<tspan class="w">V</tspan></text></g>
<g id="leaf42" transform="translate(0,790.5)"><text class="nm" x="855" y="5">Anopheles gambiae Cbf5</text><use href="#pC"/><text class="aa" x="876.5" y="5">LRGA<tspan class="w">LF</tspan><tspan class="k">Q</tspan><tspan class="w">R</tspan>P<tspan class="w">PL</tspan>I<tspan class="w">S</tspan>AV<tspan class="w">KRQL</tspan>R<tspan class="w">V</tspan></text></g>
<g id="leaf43" transform="translate(0,809.2)"><text class="nm" x="855" y="5">Culex quinquefasciatus Cbf5</text><use href="#pC"/><text class="aa" x="876.5" y="5">LRGA<tspan class="w">LF</tspan><tspan class="k">Q</tspan><tspan class="w">R</tspan>P<tspan class="w">PL</tspan>I<tspan class="w">S</tspan>AV<tspan class="w">KRQL</tspan>R<tspan class="w">V</tspan></text></g>
<g id="leaf44" transform="translate(0,828)"><text class="nm" x="855" y="5">Drosophila melanogaster Cbf5</text><use href="#pC"/><text class="aa" x="876.5" y="5">LRGA<tspan class="w">LF</tspan><tspan class="k">Q</tspan><tspan class="w">R</tspan>P<tspan class="w">PL</tspan>I<tspan class="w">S</tspan>AV<tspan class="w">KRQL</tspan>R<tspan class="w">V</tspan></text></g>
<g id="leaf45" transform="translate(0,846.7)"><text class="nm" x="855" y="5">Methanococcus aeolicus Cbf5</text><use href="#p45"/><text class="aa" x="876.5" y="5"><tspan class="k">F</tspan>TG<tspan class="k">R</tspan><tspan class="w">IF</tspan><tspan class="k">Q</tspan><tspan class="w">R</tspan>P<tspan class="w">PL</tspan><tspan class="k">K</tspan><tspan class="w">A</tspan>AV<tspan class="w">KR</tspan>S<tspan class="w">L</tspan>R<tspan class="w">I</tspan></text></g>
<g id="leaf46" transform="translate(0,865.4)"><text class="nm" x="855" y="5">Methanococcus maripaludis Cbf5</text><use href="#p46"/><text class="aa" x="876.5" y="5"><tspan class="k">F</tspan>TG<tspan class="k">R</tspan><tspan class="w">I</tspan>H<tspan class="k">Q</tspan><tspan class="w">R</tspan>P<tspan class="w">PL</tspan><tspan class="k">K</tspan><tspan class="w">A</tspan>AV<tspan class="w">KR</tspan>S<tspan class="w">L</tspan>R<tspan class="w">I</tspan></text></g>
<g id="leaf47" transform="translate(0,884.1)"><text class="nm" x="855" y="5">Methanococcus vannielii Cbf5</text><use href="#p46"/><text class="aa" x="876.5" y="5"><tspan class="k">F</tspan>TG<tspan class="k">R</tspan><tspan class="w">I</tspan>H<tspan class="k">Q</tspan><tspan class="w">R</tspan>P<tspan class="w">PL</tspan><tspan class="k">K</tspan><tspan class="w">A</tspan>AV<tspan class="w">KR</tspan>N<tspan class="w">L</tspan>R<tspan class="w">I</tspan></text></g>
<g id="leaf48" transform="translate(0,902.8)"><text class="nm" x="855" y="5">Methanococcus jannaschi Cbf5</text><use href="#p48"/><text class="aa" x="876.5" y="5"><tspan class="k">F</tspan>TG<tspan class="k">R</tspan><tspan class="w">IY</tspan><tspan class="k">Q</tspan><tspan class="w">R</tspan>P<tspan class="w">PL</tspan><tspan class="k">K</tspan><tspan class="w">A</tspan>AV<tspan class="w">KRRL</tspan>R<tspan class="w">I</tspan></text></g>
<g id="leaf49" transform="translate(0,921.6)"><text class="nm" x="855" y="5">Thermococcus kodakarensis Cbf5</text><use href="#p49"/><text class="aa" x="876.5" y="5"><tspan class="k">FQ</tspan>GE<tspan class="w">I</tspan>I<tspan class="k">Q</tspan><tspan class="w">R</tspan>P<tspan class="w">PL</tspan><tspan class="k">R</tspan><tspan class="w">S</tspan>AV<tspan class="w">KRRL</tspan>RT</text></g>
<g id="leaf50" transform="translate(0,940.3)"><text class="nm" x="855" y="5">Pyrococcus horikoshii Cbf5</text><use href="#p49"/><text class="aa" x="876.5" y="5"><tspan class="k">FE</tspan>GE<tspan class="w">I</tspan>I<tspan class="k">Q</tspan><tspan class="w">R</tspan>P<tspan class="w">PL</tspan><tspan class="k">R</tspan><tspan class="w">S</tspan>AV<tspan class="w">KRRL</tspan>RT</text></g>
<g id="leaf51" transform="translate(0,959)"><text class="nm" x="855" y="5">Pyrococcus abyssi Cbf5</text><use href="#p49"/><text class="aa" x="876.5" y="5"><tspan class="k">FE</tspan>GE<tspan class="w">I</tspan>I<tspan class="k">Q</tspan><tspan class="w">R</tspan>P<tspan class="w">PL</tspan><tspan class="k">R</tspan><tspan class="w">S</tspan>AV<tspan class="w">KRRL</tspan>RT</text></g>
<g id="leaf52" transform="translate(0,977.7)"><text class="nm" x="855" y="5">Pyrococcus furiosus Cbf5</text><use href="#p49"/><text class="aa" x="876.5" y="5"><tspan class="k">FE</tspan>GE<tspan class="w">I</tspan>I<tspan class="k">Q</tspan><tspan class="w">R</tspan>P<tspan class="w">PL</tspan><tspan class="k">R</tspan><tspan class="w">S</tspan>AV<tspan class="w">KRRL</tspan>RT</text></g>
<g id="leaf53" transform="translate(0,996.4)"><text class="nm" x="855" y="5">Methanopyrus kandleri Cbf5</text><use href="#p49"/><text class="aa" x="876.5" y="5"><tspan class="k">FE</tspan>GT<tspan class="w">I</tspan>L<tspan class="k">Q</tspan><tspan class="w">R</tspan>P<tspan class="w">PL</tspan><tspan class="k">R</tspan><tspan class="w">S</tspan>AV<tspan class="w">KRRV</tspan>RP</text></g>
<g id="leaf54" transform="translate(0,1015.2)"><text class="nm" x="855" y="5">Methanothermobacter thermautotrop...</text><use href="#p54"/><text class="aa" x="876.5" y="5"><tspan class="k">FQ</tspan>G<tspan class="k">K</tspan><tspan class="w">IF</tspan><tspan class="k">Q</tspan>IP<tspan class="w">PL</tspan><tspan class="k">K</tspan><tspan class="w">S</tspan>AV<tspan class="w">KR</tspan>D<tspan class="w">L</tspan>R<tspan class="w">V</tspan></text></g>
<g id="leaf55" transform="translate(0,1033.9)"><text class="nm" x="855" y="5">Methanosphaera stadtmanae Cbf5</text><use href="#p55"/><text class="aa" x="876.5" y="5"><tspan class="k">F</tspan>TG<tspan class="k">K</tspan><tspan class="w">IY</tspan><tspan class="k">Q</tspan>IP<tspan class="w">PV</tspan><tspan class="k">K</tspan><tspan class="w">S</tspan>AV<tspan class="w">KR</tspan>E<tspan class="w">L</tspan>R<tspan class="w">V</tspan></text></g>
<g id="leaf56" transform="translate(0,1052.6)"><text class="nm" x="855" y="5">Methanosarcina mazei Cbf5</text><use href="#p56"/><text class="aa" x="876.5" y="5"><tspan class="k">F</tspan>TGP<tspan class="w">IY</tspan><tspan class="k">Q</tspan>MP<tspan class="w">PI</tspan><tspan class="k">K</tspan><tspan class="w">S</tspan>AV<tspan class="w">KR</tspan>V<tspan class="w">I</tspan>R<tspan class="w">V</tspan></text></g>
<g id="leaf57" transform="translate(0,1071.3)"><text class="nm" x="855" y="5">Archaeoglobus fulgidus Cbf5</text><use href="#p45"/><text class="aa" x="876.5" y="5"><tspan class="k">F</tspan>VG<tspan class="k">R</tspan><tspan class="w">IY</tspan><tspan class="k">Q</tspan><tspan class="w">R</tspan>P<tspan class="w">PL</tspan><tspan class="k">K</tspan><tspan class="w">S</tspan>AV<tspan class="w">KK</tspan>V<tspan class="w">L</tspan>R<tspan class="w">I</tspan></text></g>
<g id="leaf58" transform="translate(0,1090)"><text class="nm" x="855" y="5">Methanococcus voltae Cbf5</text><use href="#p58"/><text class="aa" x="876.5" y="5"><tspan class="k">F</tspan>IG<tspan class="k">K</tspan><tspan class="w">MY</tspan><tspan class="k">Q</tspan><tspan class="w">R</tspan>P<tspan class="w">PL</tspan><tspan class="k">K</tspan><tspan class="w">A</tspan>SVA<tspan class="w">RKL</tspan>R<tspan class="w">V</tspan></text></g>
<g id="leaf59" transform="translate(0,1108.8)"><text class="nm" x="855" y="5">Xenopus tropicalis SBP2L</text><use href="#pA"/><text class="aa" x="876.5" y="5"><tspan class="k">FQ</tspan>E<tspan class="k">R</tspan><tspan class="w">VY</tspan><tspan class="k">Q</tspan><tspan class="w">K</tspan>D<tspan class="w">PV</tspan><tspan class="k">K</tspan><tspan class="w">A</tspan>KS<tspan class="w">KRRL</tspan><tspan class="k">V</tspan><tspan class="w">M</tspan></text></g>
<g id="leaf60" transform="translate(0,1127.5)"><text class="nm" x="855" y="5">Tetraodon nigroviridis SBP2L</text><use href="#pB"/><text class="aa" x="876.5" y="5"><tspan class="k">FQ</tspan>E<tspan class="k">R</tspan><tspan class="w">VY</tspan><tspan class="k">Q</tspan><tspan class="w">K</tspan>D<tspan class="w">P</tspan>T<tspan class="k">K</tspan><tspan class="w">A</tspan>KS<tspan class="w">KRRL</tspan><tspan class="k">V</tspan><tspan class="w">M</tspan></text></g>
<g id="leaf61" transform="translate(0,1146.2)"><text class="nm" x="855" y="5">Gallus gallus SBP2L</text><use href="#pA"/><text class="aa" x="876.5" y="5"><tspan class="k">FQ</tspan>E<tspan class="k">R</tspan><tspan class="w">IY</tspan><tspan class="k">Q</tspan><tspan class="w">K</tspan>D<tspan class="w">PM</tspan><tspan class="k">R</tspan><tspan class="w">A</tspan>KA<tspan class="w">RRRL</tspan><tspan class="k">V</tspan><tspan class="w">M</tspan></text></g>
<g id="leaf62" transform="translate(0,1164.9)"><text class="nm" x="855" y="5">Anolis carolinensis SBP2L</text><use href="#pA"/><text class="aa" x="876.5" y="5"><tspan class="k">FQ</tspan>E<tspan class="k">Q</tspan><tspan class="w">IY</tspan><tspan class="k">Q</tspan><tspan class="w">K</tspan>D<tspan class="w">PM</tspan><tspan class="k">R</tspan><tspan class="w">A</tspan>KA<tspan class="w">KRRL</tspan><tspan class="k">V</tspan><tspan class="w">M</tspan></text></g>
<g id="leaf63" transform="translate(0,1183.6)"><text class="nm" x="855" y="5">Equus caballus SBP2L</text><use href="#pA"/><text class="aa" x="876.5" y="5"><tspan class="k">FQ</tspan>E<tspan class="k">R</tspan><tspan class="w">IY</tspan><tspan class="k">Q</tspan><tspan class="w">K</tspan>D<tspan class="w">PV</tspan><tspan class="k">R</tspan><tspan class="w">A</tspan>KA<tspan class="w">RRRL</tspan><tspan class="k">V</tspan><tspan class="w">M</tspan></text></g>
<g id="leaf64" transform="translate(0,1202.4)"><text class="nm" x="855" y="5">Canis familiaris SBP2L</text><use href="#pA"/><text class="aa" x="876.5" y="5"><tspan class="k">FQ</tspan>E<tspan class="k">R</tspan><tspan class="w">IY</tspan><tspan class="k">Q</tspan><tspan class="w">K</tspan>D<tspan class="w">PV</tspan><tspan class="k">R</tspan><tspan class="w">A</tspan>KA<tspan class="w">RRRL</tspan><tspan class="k">V</tspan><tspan class="w">M</tspan></text></g>
<g id="leaf65" transform="translate(0,1221.1)"><text class="nm" x="855" y="5">Homo sapiens SBP2L</text><use href="#pA"/><text class="aa" x="876.5" y="5"><tspan class="k">FQ</tspan>E<tspan class="k">R</tspan><tspan class="w">IY</tspan><tspan class="k">Q</tspan><tspan class="w">K</tspan>D<tspan class="w">PV</tspan><tspan class="k">R</tspan><tspan class="w">A</tspan>KA<tspan class="w">RRRL</tspan><tspan class="k">V</tspan><tspan class="w">M</tspan></text></g>
<g id="leaf66" transform="translate(0,1239.8)"><text class="nm" x="855" y="5">Rattus norvegicus SBP2L</text><use href="#pA"/><text class="aa" x="876.5" y="5"><tspan class="k">FQ</tspan>E<tspan class="k">R</tspan><tspan class="w">IY</tspan><tspan class="k">Q</tspan><tspan class="w">K</tspan>D<tspan class="w">PV</tspan><tspan class="k">R</tspan><tspan class="w">A</tspan>KA<tspan class="w">RRRL</tspan><tspan class="k">V</tspan><tspan class="w">M</tspan></text></g>
<g id="leaf67" transform="translate(0,1258.5)"><text class="nm" x="855" y="5">Monodelphis domestica SBP2L</text><use href="#pA"/><text class="aa" x="876.5" y="5"><tspan class="k">FQ</tspan>E<tspan class="k">R</tspan><tspan class="w">IY</tspan><tspan class="k">Q</tspan><tspan class="w">K</tspan>D<tspan class="w">PV</tspan><tspan class="k">K</tspan><tspan class="w">A</tspan>KA<tspan class="w">RRRL</tspan><tspan class="k">V</tspan><tspan class="w">M</tspan></text></g>
<g id="leaf68" transform="translate(0,1277.2)"><text class="nm" x="855" y="5">Thalassiosira pseudoanna SBP2</text><use href="#p68"/><text class="aa" x="876.5" y="5">L<tspan class="k">Q</tspan>E<tspan class="k">R</tspan>--S<tspan class="w">K</tspan>DDKN<tspan class="w">A</tspan>RA<tspan class="w">RRRL</tspan><tspan class="k">V</tspan><tspan class="w">M</tspan></text></g>
<g id="leaf69" transform="translate(0,1296)"><text class="nm" x="855" y="5">Phaeodactylum tricornutum SBP2</text><use href="#p69"/><text class="aa" x="876.5" y="5">L<tspan class="k">Q</tspan>K<tspan class="k">R</tspan>--AVDENNTKV<tspan class="w">KRRL</tspan><tspan class="k">V</tspan><tspan class="w">M</tspan></text></g>
<g id="leaf70" transform="translate(0,1314.7)"><text class="nm" x="855" y="5">Toxoplasma gondii SBP2</text><use href="#p70"/><text class="aa" x="876.5" y="5">L<tspan class="k">Q</tspan>V<tspan class="k">R</tspan><tspan class="w">L</tspan>LT<tspan class="w">K</tspan>A<tspan class="w">P</tspan>Q<tspan class="k">K</tspan>QAT<tspan class="w">QRR</tspan>F<tspan class="k">V</tspan><tspan class="w">L</tspan></text></g>
<g id="leaf71" transform="translate(0,1333.4)"><text class="nm" x="855" y="5">Monosiga brevicollis SBP2</text><use href="#p71"/><text class="aa" x="876.5" y="5"><tspan class="k">F</tspan>YN<tspan class="k">R</tspan>AV<tspan class="k">E</tspan><tspan class="w">K</tspan>N<tspan class="w">PM</tspan>N<tspan class="w">A</tspan>KA<tspan class="w">RRRL</tspan><tspan class="k">V</tspan><tspan class="w">L</tspan></text></g>
<g id="leaf72" transform="translate(0,1352.1)"><text class="nm" x="855" y="5">Culex quinquefasciatus SBP2</text><use href="#p72"/><text class="aa" x="876.5" y="5"><tspan class="k">FQ</tspan>TNA<tspan class="w">Y</tspan>G<tspan class="w">K</tspan>N<tspan class="w">PI</tspan><tspan class="k">K</tspan><tspan class="w">A</tspan>VSN<tspan class="w">KR</tspan>YC<tspan class="w">V</tspan></text></g>
<g id="leaf73" transform="translate(0,1370.8)"><text class="nm" x="855" y="5">Anopheles gambiae SBP2</text><use href="#p73"/><text class="aa" x="876.5" y="5"><tspan class="k">FQ</tspan>S<tspan class="k">K</tspan>A<tspan class="w">Y</tspan>A<tspan class="w">K</tspan>N<tspan class="w">PI</tspan><tspan class="k">K</tspan><tspan class="w">A</tspan>VAN<tspan class="w">KR</tspan>F<tspan class="k">V</tspan><tspan class="w">V</tspan></text></g>
<g id="leaf74" transform="translate(0,1389.6)"><text class="nm" x="855" y="5">Drosophila virilis SBP2</text><use href="#p74"/><text class="aa" x="876.5" y="5"><tspan class="k">FQ</tspan>K<tspan class="k">R</tspan>A<tspan class="w">Y</tspan>AHNE<tspan class="w">I</tspan><tspan class="k">K</tspan><tspan class="w">A</tspan>RAHP<tspan class="w">RL</tspan><tspan class="k">V</tspan><tspan class="w">V</tspan></text></g>
<g id="leaf75" transform="translate(0,1408.3)"><text class="nm" x="855" y="5">Drosophila melanogaster SBP2</text><use href="#p75"/><text class="aa" x="876.5" y="5"><tspan class="k">FQ</tspan>K<tspan class="k">R</tspan>A<tspan class="w">F</tspan>A<tspan class="w">K</tspan>NE<tspan class="w">I</tspan><tspan class="k">K</tspan><tspan class="w">A</tspan>RAHP<tspan class="w">RL</tspan><tspan class="k">V</tspan><tspan class="w">L</tspan></text></g>
</g>
</svg>
